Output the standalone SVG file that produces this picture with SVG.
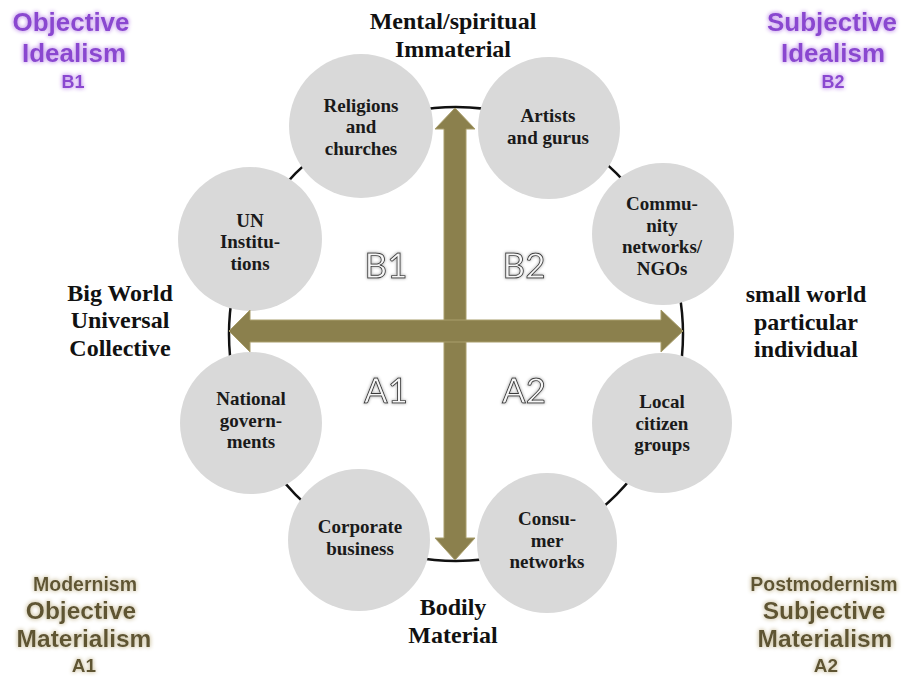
<svg xmlns="http://www.w3.org/2000/svg" width="905" height="680" viewBox="0 0 905 680">
<defs>
<filter id="glowP" x="-20%" y="-40%" width="140%" height="180%">
<feGaussianBlur in="SourceAlpha" stdDeviation="2.2" result="b"/>
<feFlood flood-color="#cfa8f0"/>
<feComposite in2="b" operator="in" result="g"/>
<feMerge><feMergeNode in="g"/><feMergeNode in="g"/><feMergeNode in="SourceGraphic"/></feMerge>
</filter>
<filter id="glowO" x="-20%" y="-40%" width="140%" height="180%">
<feGaussianBlur in="SourceAlpha" stdDeviation="2.2" result="b"/>
<feFlood flood-color="#d6cdb0"/>
<feComposite in2="b" operator="in" result="g"/>
<feMerge><feMergeNode in="g"/><feMergeNode in="g"/><feMergeNode in="SourceGraphic"/></feMerge>
</filter>
<filter id="glowG" x="-30%" y="-40%" width="160%" height="180%">
<feGaussianBlur in="SourceAlpha" stdDeviation="1.8" result="b"/>
<feFlood flood-color="#c8c8c8"/>
<feComposite in2="b" operator="in" result="g"/>
<feMerge><feMergeNode in="g"/><feMergeNode in="g"/><feMergeNode in="SourceGraphic"/></feMerge>
</filter>
</defs>
<style>
.bg{fill:#ffffff}
.ring{fill:none;stroke:#111;stroke-width:2.5}
.node circle{fill:#d9d9d9}
.nt{font-family:"Liberation Serif",serif;font-weight:bold;font-size:19px;fill:#1a1a1a;text-anchor:middle}
.ax{font-family:"Liberation Serif",serif;font-weight:bold;font-size:24px;fill:#111;text-anchor:middle}
.arrow{fill:#8b804d;stroke:#a99e6c;stroke-width:1}
.pur{font-family:"Liberation Sans",Arial,sans-serif;font-weight:bold;fill:#8a46d0;text-anchor:middle;filter:url(#glowP)}
.olv{font-family:"Liberation Sans",Arial,sans-serif;font-weight:bold;fill:#5f5533;text-anchor:middle;filter:url(#glowO)}
.q{font-family:Lato,"Open Sans",sans-serif;font-size:35px;fill:#f6f6f6;stroke:#3a3a3a;stroke-width:0.9;text-anchor:middle;filter:url(#glowG)}
</style>
<rect class="bg" x="0" y="0" width="905" height="680"/>

<g id="ring"><circle class="ring" cx="456" cy="334" r="227"/></g>

<g id="n-religions" class="node"><circle cx="361" cy="126" r="72"/>
<text class="nt" x="361" y="112">Religions</text><text class="nt" x="361" y="133">and</text><text class="nt" x="361" y="155">churches</text></g>
<g id="n-artists" class="node"><circle cx="549" cy="128" r="71"/>
<text class="nt" x="548" y="122">Artists</text><text class="nt" x="548" y="144">and gurus</text></g>
<g id="n-community" class="node"><circle cx="663" cy="234" r="71"/>
<text class="nt" x="662" y="210">Commu-</text><text class="nt" x="662" y="232">nity</text><text class="nt" x="662" y="253">networks/</text><text class="nt" x="662" y="275">NGOs</text></g>
<g id="n-local" class="node"><circle cx="662" cy="423" r="70"/>
<text class="nt" x="662" y="408">Local</text><text class="nt" x="662" y="430">citizen</text><text class="nt" x="662" y="451">groups</text></g>
<g id="n-consumer" class="node"><circle cx="547" cy="543" r="70"/>
<text class="nt" x="547" y="525">Consu-</text><text class="nt" x="547" y="547">mer</text><text class="nt" x="547" y="568">networks</text></g>
<g id="n-corporate" class="node"><circle cx="359" cy="540" r="71"/>
<text class="nt" x="360" y="533">Corporate</text><text class="nt" x="360" y="555">business</text></g>
<g id="n-national" class="node"><circle cx="251" cy="423" r="71"/>
<text class="nt" x="251" y="405">National</text><text class="nt" x="251" y="427">govern-</text><text class="nt" x="251" y="448">ments</text></g>
<g id="n-un" class="node"><circle cx="250" cy="239" r="72"/>
<text class="nt" x="250" y="227">UN</text><text class="nt" x="250" y="248">Institu-</text><text class="nt" x="250" y="270">tions</text></g>

<g id="connectors">
<polygon class="arrow" points="455,108 475,129 466,129 466,538 475,538 455,560 435,538 444,538 444,129 435,129"/>
<polygon class="arrow" points="229,331 250,310 250,320 661,320 661,310 683,331 661,352 661,342 250,342 250,352"/>
</g>

<g id="quadrants">
<text class="q" x="386" y="278">B1</text>
<text class="q" x="524" y="278">B2</text>
<text class="q" x="386" y="403">A1</text>
<text class="q" x="524" y="403">A2</text>
</g>

<g id="axis-labels">
<text class="ax" x="453" y="29">Mental/spiritual</text>
<text class="ax" x="453" y="57">Immaterial</text>
<text class="ax" x="453" y="615">Bodily</text>
<text class="ax" x="453" y="643">Material</text>
<text class="ax" x="120" y="301">Big World</text>
<text class="ax" x="120" y="328">Universal</text>
<text class="ax" x="120" y="356">Collective</text>
<text class="ax" x="806" y="302">small world</text>
<text class="ax" x="806" y="330">particular</text>
<text class="ax" x="806" y="357">individual</text>
</g>

<g id="corner-labels">
<text class="pur" x="71" y="31" font-size="26">Objective</text>
<text class="pur" x="74" y="62" font-size="26">Idealism</text>
<text class="pur" x="73" y="88" font-size="18">B1</text>
<text class="pur" x="832" y="31" font-size="26">Subjective</text>
<text class="pur" x="833" y="62" font-size="26">Idealism</text>
<text class="pur" x="833" y="88" font-size="18">B2</text>
<text class="olv" x="85" y="591" font-size="19.5">Modernism</text>
<text class="olv" x="81" y="619" font-size="24.5">Objective</text>
<text class="olv" x="84" y="647" font-size="24.5">Materialism</text>
<text class="olv" x="84" y="672" font-size="19">A1</text>
<text class="olv" x="824" y="591" font-size="19.5">Postmodernism</text>
<text class="olv" x="824" y="619" font-size="24.5">Subjective</text>
<text class="olv" x="825" y="647" font-size="24.5">Materialism</text>
<text class="olv" x="826" y="672" font-size="19">A2</text>
</g>
</svg>
